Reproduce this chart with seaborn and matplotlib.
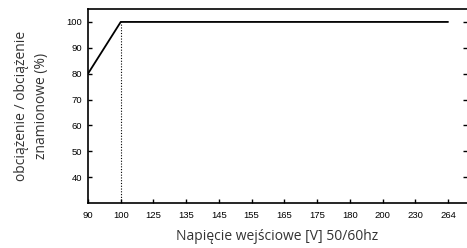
import numpy as np
import pandas as pd
import matplotlib
matplotlib.use("Agg")
import matplotlib.pyplot as plt
import seaborn as sns

# Input voltage categories (equally spaced on the axis) and load percentage
voltage_labels = ['90', '100', '125', '135', '145', '155', '165', '175', '180', '200', '230', '264']
load_percent = [80, 100, 100, 100, 100, 100, 100, 100, 100, 100, 100, 100]
y_ticks = [40, 50, 60, 70, 80, 90, 100]

df = pd.DataFrame({'pos': np.arange(len(voltage_labels)), 'load': load_percent})

sns.set_style('white')
plt.rcParams['font.family'] = ['Liberation Sans', 'DejaVu Sans']

fig = plt.figure(figsize=(4.67, 2.48), dpi=100)
ax = fig.add_axes([88 / 467, 45 / 248, 378.5 / 467, 194 / 248])

sns.lineplot(data=df, x='pos', y='load', color='black', linewidth=1.3, ax=ax)

# dotted marker at 100 V
ax.plot([1, 1], [30, 100], color='black', linestyle=(0, (1, 1.5)), linewidth=0.8)

ax.set_xlim(0, 378.5 / 32.73)
ax.set_ylim(30, 105)
ax.set_xticks(df['pos'])
ax.set_xticklabels(voltage_labels)
ax.set_yticks(y_ticks)

for s in ax.spines.values():
    s.set_color('black')
    s.set_linewidth(1.2)
ax.spines['right'].set_visible(False)

ax.tick_params(axis='both', direction='in', length=3, width=1, labelsize=6.8,
               colors='black', pad=4)
ax.tick_params(axis='y', right=True, left=True)
ax.tick_params(axis='x', bottom=True, top=False, pad=6)

ax.set_xlabel('Napięcie wejściowe [V] 50/60hz', family=['Open Sans', 'DejaVu Sans'],
              fontsize=10, color='#333333', labelpad=6)
ax.set_ylabel('obciążenie / obciążenie\nznamionowe (%)', family=['Open Sans', 'DejaVu Sans'],
              fontsize=10, color='#333333', labelpad=13, linespacing=1.4)

fig.savefig('out.png', dpi=100)
